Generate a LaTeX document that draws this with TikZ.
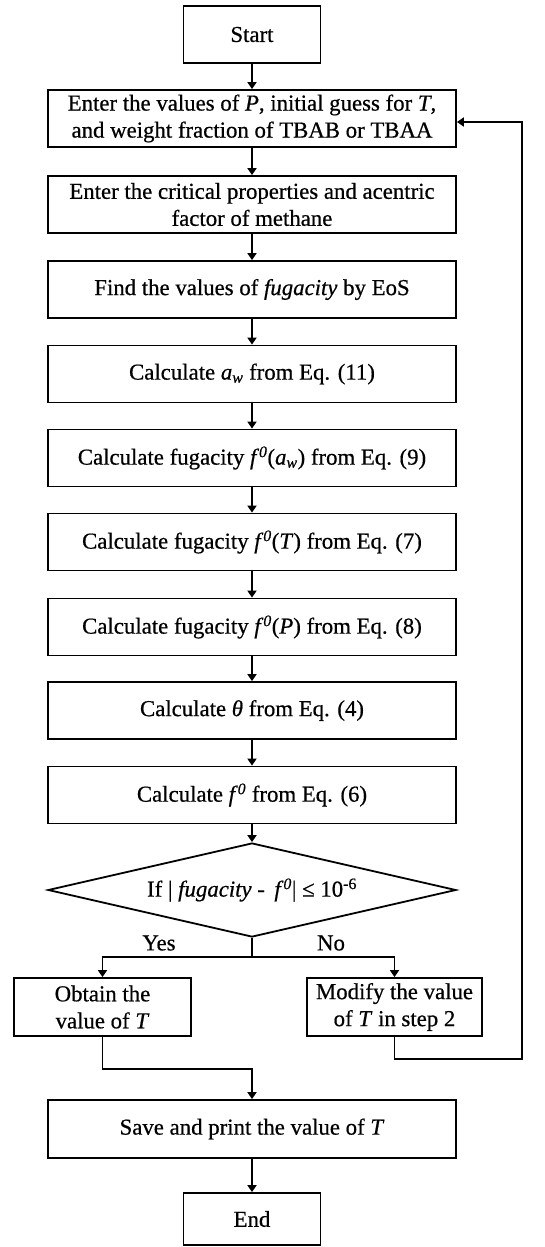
\documentclass[tikz,border=0pt]{standalone}
\usepackage{fontspec}
\setmainfont{Liberation Serif}[UprightFeatures={FakeBold=0.6},ItalicFeatures={FakeBold=0.6}]
\usetikzlibrary{arrows.meta,shapes.geometric}
\newcommand{\fz}{\textit{f}\textsuperscript{\textit{0}}}
\begin{document}
\begin{tikzpicture}[x=1pt,y=-1pt,
  box/.style={draw,line width=1.8pt,minimum height=57pt,inner sep=0pt,align=center,font=\fontsize{22.8}{27}\selectfont},
  small/.style={box,minimum width=137pt},
  wide/.style={box,minimum width=408pt},
  arr/.style={line width=1.8pt,-{Triangle[width=9pt,length=7pt]}},
  ln/.style={line width=1.8pt},
  lbl/.style={font=\fontsize{22.8}{27}\selectfont,inner sep=0pt}]
\useasboundingbox (0,0) rectangle (544,1247);
\node[small] (start) at (252,34.5) {Start};
\node[wide] (b2) at (252,118.5) {Enter the values of \textit{P}, initial guess for \textit{T},\\and weight fraction of TBAB or TBAA};
\node[wide] (b3) at (252,204.5) {Enter the critical properties and acentric\\factor of methane};
\node[wide] (b4) at (252,289.5) {Find the values of \textit{fugacity} by EoS};
\node[wide] (b5) at (252,374) {Calculate \textit{a}\textsubscript{\textit{w}} from Eq. (11)};
\node[wide] (b6) at (252,458) {Calculate fugacity \fz(\textit{a}\textsubscript{\textit{w}}) from Eq. (9)};
\node[wide] (b7) at (252,542) {Calculate fugacity \fz(\textit{T}) from Eq. (7)};
\node[wide] (b8) at (252,627) {Calculate fugacity \fz(\textit{P}) from Eq. (8)};
\node[wide] (b9) at (252,710.5) {Calculate \textit{θ} from Eq. (4)};
\node[wide] (b10) at (252,795) {Calculate \fz{} from Eq. (6)};
\node[draw,line width=1.8pt,shape=diamond,aspect=4.34,minimum width=408pt,minimum height=94pt,inner sep=0pt,font=\fontsize{22.8}{27}\selectfont] (dia) at (252,890) {If | \textit{fugacity} - \,\fz| ≤ 10\textsuperscript{-6}};
\node[box,minimum width=177pt,minimum height=58pt] (yes) at (102.5,1007) {Obtain the\\value of \textit{T}};
\node[box,minimum width=175pt,minimum height=58pt] (no) at (394.5,1007) {Modify the value\\of \textit{T} in step 2};
\node[lbl] (ylab) at (159,943) {Yes};
\node[lbl] (nlab) at (331,943) {No};
\node[wide,minimum height=58pt] (save) at (252,1129) {Save and print the value of \textit{T}};
\node[small,minimum height=52pt] (end) at (252,1219) {End};
\draw[arr] (start) -- (b2);
\draw[arr] (b2) -- (b3);
\draw[arr] (b3) -- (b4);
\draw[arr] (b4) -- (b5);
\draw[arr] (b5) -- (b6);
\draw[arr] (b6) -- (b7);
\draw[arr] (b7) -- (b8);
\draw[arr] (b8) -- (b9);
\draw[arr] (b9) -- (b10);
\draw[arr] (b10) -- (dia);
\coordinate (br) at (252,957);
\draw[ln] (dia.south) -- (br);
\draw[arr] (br) -| (yes.north);
\draw[arr] (br) -| (no.north);
\coordinate (lp) at (522,1059);
\coordinate (lt) at (522,122);
\draw[arr] (no.south) |- (lp) -- (lt) -- (b2.east |- lt);
\coordinate (mj) at (252,1069);
\draw[arr] (yes.south) |- (mj) -- (save.north);
\draw[arr] (save) -- (end);
\end{tikzpicture}
\end{document}
